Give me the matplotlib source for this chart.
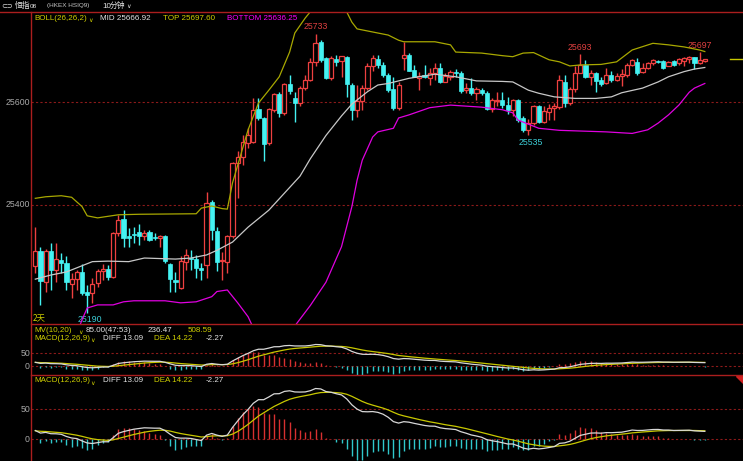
import numpy as np
import matplotlib
matplotlib.use('Agg')
import matplotlib.pyplot as plt
from matplotlib.lines import Line2D
from matplotlib.patches import Polygon
from matplotlib import font_manager as fm

plt.rcParams['font.family'] = ['Liberation Sans', 'Noto Sans CJK SC', 'DejaVu Sans']
_names = {f.name for f in fm.fontManager.ttflist}
if 'Liberation Sans Narrow' in _names:
    HDR_FAM, HDR_SIZE = ['Liberation Sans Narrow', 'DejaVu Sans'], 6.5
else:
    HDR_FAM, HDR_SIZE = ['Liberation Sans', 'DejaVu Sans'], 5.8

# ---------------- data (10-minute candles) ----------------
opens = [25282, 25311, 25250, 25311, 25274, 25293, 25288, 25246, 25256, 25269,
         25231, 25229, 25248, 25272, 25276, 25260, 25345, 25372, 25339, 25344,
         25347, 25339, 25347, 25337, 25335, 25340, 25285, 25254, 25238, 25290,
         25298, 25295, 25277, 25284, 25405, 25350, 25291, 25290, 25340, 25481,
         25494, 25520, 25523, 25586, 25569, 25520, 25585, 25616, 25579, 25635,
         25608, 25598, 25627, 25643, 25678, 25717, 25685, 25647, 25684, 25680,
         25688, 25633, 25585, 25602, 25627, 25670, 25684, 25672, 25652, 25625,
         25589, 25685, 25691, 25662, 25646, 25652, 25646, 25656, 25667, 25639,
         25649, 25659, 25656, 25623, 25628, 25618, 25623, 25618, 25587, 25601,
         25604, 25594, 25585, 25604, 25568, 25545, 25559, 25592, 25562, 25581,
         25588, 25590, 25639, 25599, 25625, 25657, 25672, 25648, 25657, 25643,
         25636, 25652, 25643, 25651, 25652, 25672, 25678, 25659, 25667, 25675,
         25680, 25680, 25670, 25680, 25675, 25680, 25683, 25687, 25675, 25680]
highs = [25358, 25319, 25315, 25326, 25326, 25307, 25300, 25267, 25274, 25285,
         25245, 25259, 25276, 25285, 25284, 25348, 25381, 25390, 25355, 25358,
         25363, 25352, 25352, 25345, 25342, 25342, 25287, 25269, 25300, 25314,
         25313, 25303, 25288, 25426, 25410, 25357, 25309, 25342, 25484, 25504,
         25536, 25550, 25608, 25608, 25571, 25588, 25618, 25619, 25637, 25652,
         25619, 25631, 25652, 25685, 25733, 25720, 25687, 25689, 25691, 25690,
         25689, 25637, 25633, 25633, 25676, 25691, 25691, 25678, 25656, 25649,
         25639, 25717, 25695, 25672, 25658, 25672, 25666, 25676, 25676, 25656,
         25662, 25664, 25660, 25637, 25647, 25629, 25627, 25621, 25608, 25619,
         25619, 25610, 25606, 25606, 25573, 25567, 25594, 25594, 25592, 25596,
         25598, 25652, 25652, 25629, 25669, 25693, 25682, 25662, 25659, 25649,
         25667, 25661, 25657, 25665, 25675, 25683, 25685, 25675, 25678, 25684,
         25682, 25682, 25680, 25682, 25685, 25688, 25689, 25688, 25697, 25684]
lows = [25268, 25206, 25232, 25235, 25251, 25268, 25235, 25219, 25235, 25225,
        25190, 25209, 25241, 25254, 25254, 25258, 25339, 25319, 25319, 25326,
        25322, 25332, 25331, 25332, 25318, 25288, 25232, 25232, 25236, 25274,
        25274, 25258, 25254, 25258, 25332, 25271, 25254, 25267, 25336, 25414,
        25478, 25511, 25520, 25565, 25486, 25517, 25581, 25571, 25575, 25616,
        25562, 25592, 25623, 25641, 25670, 25678, 25645, 25643, 25669, 25649,
        25610, 25565, 25571, 25585, 25623, 25660, 25666, 25649, 25619, 25585,
        25585, 25662, 25660, 25649, 25623, 25647, 25633, 25643, 25637, 25639,
        25643, 25649, 25618, 25618, 25614, 25604, 25614, 25585, 25581, 25592,
        25588, 25577, 25573, 25562, 25542, 25535, 25555, 25559, 25559, 25565,
        25565, 25587, 25591, 25594, 25620, 25656, 25646, 25633, 25620, 25631,
        25635, 25639, 25641, 25631, 25649, 25669, 25652, 25656, 25664, 25672,
        25676, 25665, 25669, 25670, 25672, 25669, 25675, 25664, 25674, 25678]
closes = [25311, 25253, 25311, 25274, 25295, 25287, 25251, 25256, 25269, 25229,
          25225, 25246, 25271, 25276, 25260, 25345, 25371, 25335, 25335, 25342,
          25339, 25345, 25332, 25335, 25340, 25292, 25256, 25251, 25291, 25302,
          25295, 25278, 25274, 25404, 25352, 25290, 25293, 25340, 25481, 25494,
          25522, 25536, 25585, 25569, 25518, 25586, 25616, 25579, 25635, 25622,
          25599, 25627, 25643, 25678, 25715, 25682, 25647, 25685, 25678, 25689,
          25635, 25585, 25602, 25627, 25670, 25685, 25671, 25652, 25623, 25589,
          25633, 25691, 25661, 25649, 25651, 25648, 25656, 25667, 25639, 25651,
          25658, 25656, 25622, 25628, 25617, 25625, 25617, 25587, 25604, 25604,
          25594, 25585, 25604, 25565, 25546, 25559, 25592, 25562, 25582, 25589,
          25592, 25643, 25599, 25625, 25657, 25672, 25648, 25656, 25641, 25635,
          25652, 25643, 25651, 25654, 25672, 25682, 25656, 25667, 25676, 25682,
          25678, 25667, 25678, 25672, 25683, 25685, 25688, 25675, 25682, 25683]

# Bollinger band readings (candle index -> price)
upper_idx = [0, 2, 5, 7, 9, 10, 12, 16, 20, 31, 32, 34, 36, 37, 38, 41, 43, 45, 47,
             49, 50, 52, 55, 57, 59, 61, 62, 64, 68, 70, 71, 77, 80, 81, 86, 90, 92,
             94, 96, 99, 101, 103, 105, 109, 112, 115, 119, 122, 125, 128, 129]
upper_val = [25413, 25416, 25418, 25415, 25397, 25379, 25375, 25381, 25382, 25383,
             25394, 25398, 25393, 25392, 25443, 25546, 25598, 25623, 25649, 25697,
             25734, 25763, 25800, 25810, 25795, 25755, 25742, 25738, 25730, 25720,
             25717, 25717, 25711, 25697, 25695, 25690, 25688, 25695, 25696, 25682,
             25678, 25670, 25672, 25673, 25678, 25701, 25714, 25711, 25707, 25701,
             25698]
mid_idx = [0, 3, 6, 9, 11, 14, 18, 21, 27, 30, 33, 35, 38, 41, 45, 48, 51, 53, 56,
           59, 61, 64, 66, 68, 72, 77, 81, 85, 90, 92, 95, 97, 100, 104, 108, 111,
           113, 117, 120, 122, 125, 127, 129]
mid_val = [25256, 25264, 25270, 25282, 25290, 25291, 25290, 25297, 25295, 25297,
           25303, 25312, 25328, 25357, 25390, 25423, 25456, 25490, 25535, 25573,
           25596, 25620, 25633, 25636, 25646, 25654, 25649, 25641, 25640, 25639,
           25623, 25617, 25610, 25607, 25607, 25610, 25618, 25627, 25639, 25649,
           25659, 25664, 25667]
lower_idx = [0, 5, 8, 9, 10, 12, 15, 17, 19, 25, 28, 31, 34, 35, 37, 39, 41, 43, 46,
             50, 53, 56, 59, 61, 62, 63, 65, 66, 69, 70, 72, 76, 80, 83, 86, 90, 92,
             93, 97, 101, 110, 115, 118, 120, 122, 124, 126, 127, 129]
lower_val = [25100, 25115, 25150, 25177, 25200, 25206, 25206, 25212, 25214, 25214,
             25210, 25212, 25222, 25232, 25235, 25210, 25183, 25140, 25130, 25165,
             25205, 25250, 25319, 25397, 25448, 25487, 25532, 25542, 25549, 25569,
             25575, 25589, 25594, 25592, 25590, 25585, 25579, 25565, 25549, 25545,
             25542, 25539, 25546, 25559, 25575, 25594, 25619, 25627, 25636]

price_ticks = [25600, 25400]
macd_ticks = [50, 0]
high_label_idx = [54, 105, 128]
low_label_idx = [10, 95]

# MACD state carried in from before the visible window
EMA12_SEED, EMA26_SEED, DEA_SEED = 25290.0, 25276.0, 14.0

# ---------------- colours ----------------
RED = '#EE4040'
CYAN = '#44F2F2'
BAND_Y = '#A8A800'
BAND_W = '#C8C8C8'
BAND_M = '#E000E0'
TXT_Y = '#D0D000'
TXT_W = '#E4E4E4'
FRAME = '#AA1E1E'
GRID = '#8C1A1A'
AXLBL = '#A8A8A8'

W, H = 743, 461
fig = plt.figure(figsize=(W / 100, H / 100), dpi=100, facecolor='black')


def fx(px):
    return px / W


def fy(py):
    return 1 - py / H


X0, DX = 35.3, 5.19
xlim = ((31 - X0) / DX, (743 - X0) / DX)
L, R = fx(31), fx(743)

ax = fig.add_axes([L, fy(324), R - L, fy(12) - fy(324)])
ax1 = fig.add_axes([L, fy(375), R - L, fy(324) - fy(375)])
ax2 = fig.add_axes([L, 0, R - L, fy(375)])
for a in (ax, ax1, ax2):
    a.set_axis_off()
    a.set_xlim(*xlim)
ax.set_ylim(25168.9, 25774.8)
ax1.set_ylim(-35.4, 165.4)
ax2.set_ylim(-36.2, 107.2)

# grid lines
for v in price_ticks:
    ax.axhline(v, color=GRID, lw=0.8, ls=(0, (2, 2)), zorder=0)
for a in (ax1, ax2):
    for v in macd_ticks:
        a.axhline(v, color=GRID, lw=0.8, ls=(0, (2, 2)), zorder=0)

# candles
o, h, l, c = map(np.array, (opens, highs, lows, closes))
idx = np.arange(len(c))
up = c >= o
ax.vlines(idx[up], l[up], h[up], color=RED, lw=1.0, zorder=2)
ax.vlines(idx[~up], l[~up], h[~up], color=CYAN, lw=1.0, zorder=2)
bw = 0.8
ax.bar(idx[up], c[up] - o[up], bottom=o[up], width=bw, facecolor='black',
       edgecolor=RED, lw=0.9, zorder=3)
ax.bar(idx[~up], o[~up] - c[~up], bottom=c[~up], width=bw, facecolor=CYAN,
       edgecolor=CYAN, lw=0.5, zorder=3)

# Bollinger bands
ax.plot(upper_idx, upper_val, color=BAND_Y, lw=0.9, zorder=4)
ax.plot(mid_idx, mid_val, color=BAND_W, lw=0.9, zorder=4)
ax.plot(lower_idx, lower_val, color=BAND_M, lw=0.9, zorder=4)

# current price marker
ax.plot([(730 - X0) / DX, xlim[1]], [c[-1], c[-1]], color='#C8C800', lw=1.0)

# extreme labels
for i in high_label_idx:
    ax.annotate(f"{highs[i]:.0f}", (i, highs[i]), xytext=(0, 1.5),
                textcoords='offset points', ha='center', va='bottom',
                color='#E04040', fontsize=6.3, family=HDR_FAM)
for i in low_label_idx:
    ax.annotate(f"{lows[i]:.0f}", (i + 0.5, lows[i]), xytext=(0, -1.5),
                textcoords='offset points', ha='center', va='top',
                color='#3CCDD6', fontsize=6.3, family=HDR_FAM)

# MACD
a12, a26, a9 = 2 / 13, 2 / 27, 2 / 10
e12, e26, dea = EMA12_SEED, EMA26_SEED, DEA_SEED
diff_l, dea_l = [], []
for p in closes:
    e12 += a12 * (p - e12)
    e26 += a26 * (p - e26)
    d = e12 - e26
    dea += a9 * (d - dea)
    diff_l.append(d)
    dea_l.append(dea)
diff_a = np.array(diff_l)
dea_a = np.array(dea_l)
hist = 2 * (diff_a - dea_a)
pos = hist >= 0
for a in (ax1, ax2):
    a.vlines(idx[pos], 0, hist[pos], color='#D83030', lw=1.0, zorder=2)
    a.vlines(idx[~pos], 0, hist[~pos], color='#30C8CC', lw=1.0, zorder=2)
    a.plot(idx, dea_a, color='#C8C800', lw=0.9, zorder=3)
    a.plot(idx, diff_a, color='#D8D8D8', lw=0.9, zorder=4)

# frame lines
fig.add_artist(Line2D([0, 1], [fy(12), fy(12)], color=FRAME, lw=1.0))
fig.add_artist(Line2D([L, 1], [fy(324), fy(324)], color=FRAME, lw=1.0))
fig.add_artist(Line2D([L, 1], [fy(375), fy(375)], color=FRAME, lw=1.0))
fig.add_artist(Line2D([L, L], [0, fy(12)], color=FRAME, lw=1.0))
fig.add_artist(Polygon([[fx(736), fy(376)], [fx(743), fy(376)], [fx(743), fy(383)]],
                       closed=True, color='#D02020'))

# axis labels
for v in price_ticks:
    yy = ax.transData.transform((0, v))[1] / fig.dpi / fig.get_figheight()
    fig.text(fx(30), yy, str(v), color=AXLBL, fontsize=6.3, ha='right', va='center',
             family=HDR_FAM)
for a in (ax1, ax2):
    for v in macd_ticks:
        yy = a.transData.transform((0, v))[1] / fig.dpi / fig.get_figheight()
        fig.text(fx(30), yy, str(v), color=AXLBL, fontsize=6.3, ha='right',
                 va='center', family=HDR_FAM)


def t(x, y, s, color, size=None, fam=None):
    fig.text(fx(x), fy(y), s, color=color, fontsize=size or HDR_SIZE,
             ha='left', va='center', family=fam or HDR_FAM)


CJK = ['Noto Sans CJK SC', 'DejaVu Sans']
SYM = ['DejaVu Sans']

# top bar
t(1, 6, '⊂⊃', TXT_W, 5.0, SYM)
t(15, 6, '恒指', TXT_W, 5.6, CJK)
t(30, 7, '08', TXT_W, 4.6)
t(47, 6, '(HKEX HSIQ9)', '#C8C8C8', 4.6)
t(102, 6, '10', TXT_W, 5.8)
t(110, 6, '分钟', TXT_W, 5.6, CJK)
t(126, 7, '∨', TXT_W, 4.5, SYM)

# BOLL header
t(34, 18, 'BOLL(26,26,2)', TXT_Y)
t(88, 20, '∨', TXT_Y, 4.5, SYM)
t(100, 18, 'MID 25666.92', TXT_W)
t(163, 18, 'TOP 25697.60', TXT_Y)
t(227, 18, 'BOTTOM 25636.25', '#FF00FF')

# sub-panel headers
t(34, 330, 'MV(10,20)', TXT_Y)
t(78, 332, '∨', TXT_Y, 4.5, SYM)
t(86, 330, '85.00(47:53)', TXT_W)
t(148, 330, '236.47', TXT_W)
t(188, 330, '508.59', TXT_Y)
for yy in (338, 381):
    t(34, yy, 'MACD(12,26,9)', TXT_Y)
    t(90, yy + 2, '∨', TXT_Y, 4.5, SYM)
    t(103, yy, 'DIFF 13.09', TXT_W)
    t(154, yy, 'DEA 14.22', TXT_Y)
    t(206, yy, '-2.27', TXT_W)

t(33, 318, '2天', TXT_Y, 6.0, ['Noto Sans CJK SC', 'DejaVu Sans'])

fig.savefig('out.png', dpi=100, facecolor='black')
